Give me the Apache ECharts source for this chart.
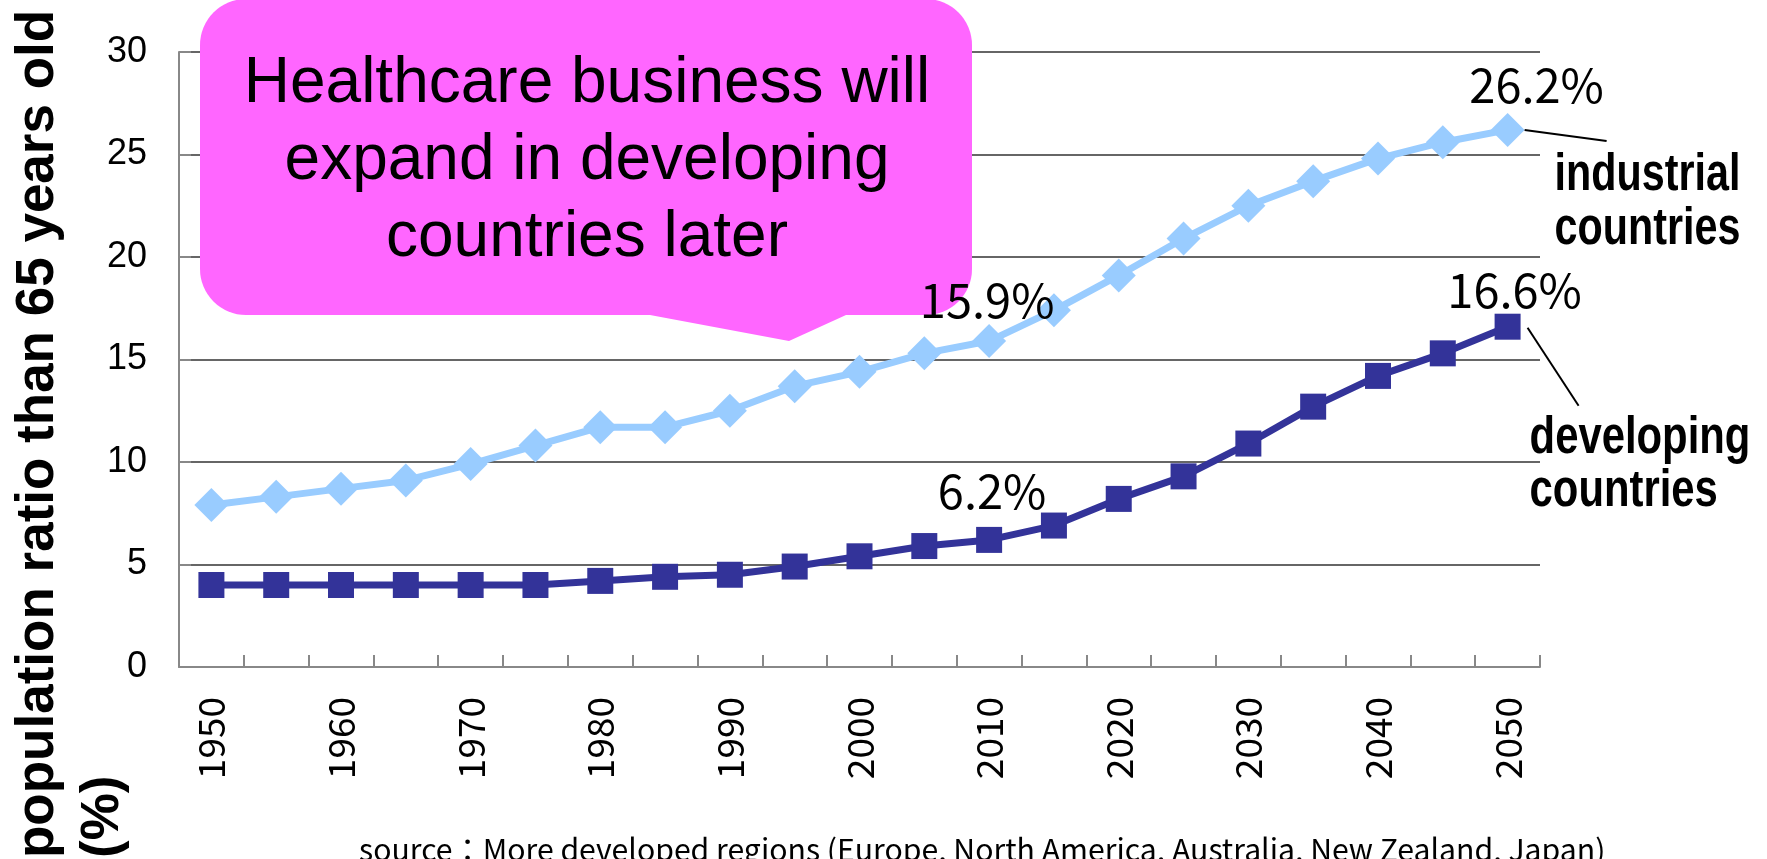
<!DOCTYPE html>
<html>
<head>
<meta charset="utf-8">
<script src="https://cdn.jsdelivr.net/npm/echarts@6/dist/echarts.min.js"></script>
<style>
  html, body { margin: 0; padding: 0; background: #fff; }
  #chart { width: 1767px; height: 859px; }
</style>
</head>
<body>
<div id="chart"></div>
<script>
// ---- data ----
const years = ['1950','1955','1960','1965','1970','1975','1980','1985','1990','1995','2000',
               '2005','2010','2015','2020','2025','2030','2035','2040','2045','2050'];
const industrial = [7.9, 8.3, 8.7, 9.1, 9.9, 10.8, 11.7, 11.7, 12.5, 13.7, 14.4,
                    15.3, 15.9, 17.4, 19.1, 20.9, 22.5, 23.7, 24.8, 25.6, 26.2];
const developing = [4.0, 4.0, 4.0, 4.0, 4.0, 4.0, 4.2, 4.4, 4.5, 4.9, 5.4,
                    5.9, 6.2, 6.9, 8.2, 9.3, 10.9, 12.7, 14.2, 15.3, 16.6];
const yMin = 0, yMax = 30, yStep = 5;
const labelledIdx = [12, 20];
const seriesNames = ['industrial countries', 'developing countries'];
const yTitleLines = ['population ratio than 65 years old', '(%)'];
const calloutText = 'Healthcare business will\nexpand in developing\ncountries later';
const sourceText = 'source：More developed regions (Europe, North America, Australia, New Zealand, Japan)';

// ---- styles ----
const labelFont = '"Noto Sans CJK JP", "Liberation Sans", sans-serif';
const lblStyle = {
  industrial: { 12: { distance: 0, offset: [-2, 0] }, 20: { distance: 4, offset: [29, 0] } },
  developing: { 12: { distance: 12, offset: [3, 0] }, 20: { distance: 0, offset: [7, 0] } }
};
function mk(arr, key) {
  return arr.map((v, i) => {
    if (!labelledIdx.includes(i)) return v;
    const s = lblStyle[key][i];
    return {
      value: v,
      label: {
        show: true, position: 'top', distance: s.distance, offset: s.offset,
        formatter: '{c}%', color: '#000', fontSize: 47, fontFamily: labelFont
      }
    };
  });
}

const chart = echarts.init(document.getElementById('chart'), null, { renderer: 'canvas' });
const option = {
  animation: false,
  backgroundColor: '#fff',
  grid: { left: 179, right: 227, top: 52, bottom: 192, containLabel: false },
  xAxis: {
    type: 'category',
    data: years,
    boundaryGap: true,
    axisLine: { show: true, lineStyle: { color: '#888', width: 2 } },
    axisTick: { show: true, inside: true, length: 12, interval: 0, lineStyle: { color: '#888', width: 2 } },
    axisLabel: { interval: 1, rotate: 90, margin: 30, fontSize: 37, color: '#000', fontFamily: labelFont },
    splitLine: { show: false }
  },
  yAxis: {
    type: 'value',
    min: yMin, max: yMax, interval: yStep,
    axisLine: { show: true, lineStyle: { color: '#888', width: 2 } },
    axisTick: { show: true, inside: true, length: 12, lineStyle: { color: '#888', width: 2 } },
    axisLabel: { margin: 32, fontSize: 36, color: '#000', fontFamily: '"Liberation Sans", Arial, sans-serif' },
    splitLine: { show: true, lineStyle: { color: '#333', width: 1.5 } }
  },
  series: [
    {
      name: seriesNames[0], type: 'line', data: mk(industrial, 'industrial'),
      symbol: 'diamond', symbolSize: 34,
      lineStyle: { color: '#99CCFF', width: 7 },
      itemStyle: { color: '#99CCFF' },
      z: 3
    },
    {
      name: seriesNames[1], type: 'line', data: mk(developing, 'developing'),
      symbol: 'rect', symbolSize: 26,
      lineStyle: { color: '#333399', width: 7 },
      itemStyle: { color: '#333399' },
      z: 3
    }
  ]
};
chart.setOption(option);

// anchor annotations to the last data points
const last = years.length - 1;
const pI = chart.convertToPixel({ seriesIndex: 0 }, [last, industrial[last]]);
const pD = chart.convertToPixel({ seriesIndex: 1 }, [last, developing[last]]);
const boldAnn = 'bold 51px "Liberation Sans", Arial, sans-serif';

chart.setOption({
  graphic: [
    // callout box
    { type: 'rect', z: 1, shape: { x: 200, y: -1, width: 772, height: 316, r: 46 }, style: { fill: '#FF66FF' } },
    { type: 'polygon', z: 1, shape: { points: [[650, 300], [650, 315], [789, 341], [846, 315], [846, 300]] }, style: { fill: '#FF66FF' } },
    { type: 'text', z: 2, x: 587, y: 161.5,
      style: { text: calloutText, font: '64px "Liberation Sans", Arial, sans-serif', lineHeight: 77,
               fill: '#000', align: 'center', textAlign: 'center', verticalAlign: 'middle', textVerticalAlign: 'middle' } },
    // y-axis title (two rotated lines)
    { type: 'text', z: 2, x: 38.6, y: 858, rotation: Math.PI / 2,
      style: { text: yTitleLines[0], font: 'bold 53px "Liberation Sans", Arial, sans-serif', fill: '#000',
               align: 'left', textAlign: 'left', verticalAlign: 'middle', textVerticalAlign: 'middle' } },
    { type: 'text', z: 2, x: 103, y: 858, rotation: Math.PI / 2,
      style: { text: yTitleLines[1], font: 'bold 53px "Liberation Sans", Arial, sans-serif', fill: '#000',
               align: 'left', textAlign: 'left', verticalAlign: 'middle', textVerticalAlign: 'middle' } },
    // leader lines
    { type: 'line', z: 4, shape: { x1: pI[0] + 17, y1: pI[1], x2: pI[0] + 99, y2: pI[1] + 11 }, style: { stroke: '#000', lineWidth: 2 } },
    { type: 'line', z: 4, shape: { x1: pD[0] + 20, y1: pD[1] + 1, x2: pD[0] + 71, y2: pD[1] + 79 }, style: { stroke: '#000', lineWidth: 2 } },
    // series annotations (condensed bold)
    { type: 'text', z: 4, x: pI[0] + 47, y: pI[1] + 19.5, scaleX: 0.81,
      style: { text: 'industrial\ncountries', font: boldAnn, lineHeight: 54, fill: '#000',
               align: 'left', textAlign: 'left', verticalAlign: 'top', textVerticalAlign: 'top' } },
    { type: 'text', z: 4, x: pD[0] + 22, y: pD[1] + 85.5, scaleX: 0.82,
      style: { text: 'developing\ncountries', font: boldAnn, lineHeight: 53, fill: '#000',
               align: 'left', textAlign: 'left', verticalAlign: 'top', textVerticalAlign: 'top' } },
    // source note
    { type: 'text', z: 4, x: 359, y: 850,
      style: { text: sourceText, font: '30.2px "Noto Sans CJK JP", "Liberation Sans", sans-serif', fill: '#000',
               align: 'left', textAlign: 'left', verticalAlign: 'middle', textVerticalAlign: 'middle' } }
  ]
});
</script>
</body>
</html>
